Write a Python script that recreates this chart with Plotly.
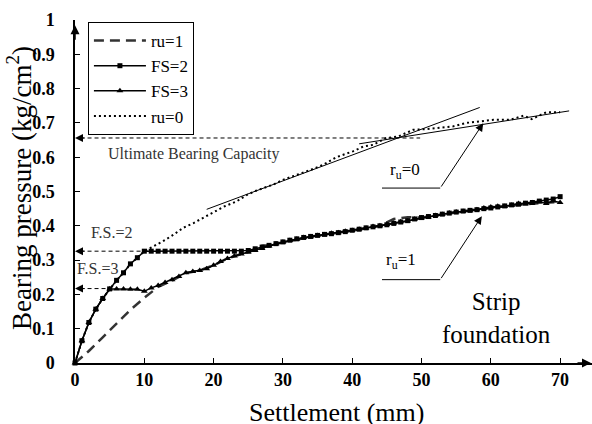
import plotly.graph_objects as go

# ---------------- data ----------------
fs_x = list(range(0, 71))
fs2_y = [0, 0.065, 0.118, 0.157, 0.188, 0.216, 0.241, 0.263, 0.289, 0.307, 0.326,
         0.326, 0.326, 0.326, 0.326, 0.326, 0.326, 0.326, 0.326, 0.326, 0.326,
         0.326, 0.326, 0.326, 0.326, 0.328, 0.333, 0.338, 0.343, 0.348, 0.353,
         0.358, 0.362, 0.366, 0.369, 0.372, 0.375, 0.377, 0.380, 0.383, 0.387,
         0.390, 0.394, 0.397, 0.400, 0.403, 0.407, 0.411, 0.415, 0.420, 0.424,
         0.427, 0.430, 0.434, 0.437, 0.440, 0.443, 0.445, 0.447, 0.450, 0.452,
         0.455, 0.458, 0.461, 0.463, 0.466, 0.468, 0.472, 0.475, 0.478, 0.485]
fs3_y = [0, 0.065, 0.118, 0.157, 0.188, 0.216, 0.216, 0.216, 0.215, 0.215, 0.209,
         0.219, 0.226, 0.235, 0.243, 0.252, 0.263, 0.267, 0.270, 0.275, 0.285,
         0.296, 0.305, 0.312, 0.318, 0.323, 0.328, 0.334, 0.341, 0.347, 0.352,
         0.357, 0.361, 0.366, 0.368, 0.372, 0.374, 0.378, 0.380, 0.384, 0.386,
         0.390, 0.393, 0.398, 0.400, 0.404, 0.408, 0.412, 0.414, 0.419, 0.423,
         0.426, 0.430, 0.433, 0.437, 0.440, 0.442, 0.444, 0.447, 0.452, 0.455,
         0.457, 0.456, 0.460, 0.465, 0.464, 0.467, 0.470, 0.465, 0.472, 0.468]
ru1_x = [0, 2, 4, 6, 8, 10, 11, 12, 14, 16, 18, 20, 22, 24, 26, 27, 28, 30,
         35, 40, 44, 46, 48, 50, 55, 60, 65, 70]
ru1_y = [0, 0.035, 0.075, 0.115, 0.155, 0.19, 0.205, 0.222, 0.24, 0.262, 0.27,
         0.285, 0.305, 0.318, 0.33, 0.342, 0.343, 0.352, 0.372, 0.386, 0.40,
         0.42, 0.425, 0.424, 0.44, 0.452, 0.463, 0.47]
ru0_x = [0, 1, 2, 3, 4, 5, 6, 7, 8, 9, 10, 11.3, 12.7, 14.2, 15.6, 17.1, 18.5,
         20.2, 21.6, 23.3, 24.8, 26.2, 28.6, 30, 32, 34, 35.8, 37.7, 40.1, 41.6,
         43, 44.9, 46.6, 48.8, 50.7, 52.7, 54.6, 56.5, 58, 60.4, 62.8, 64.7,
         65.9, 68, 70]
ru0_y = [0, 0.065, 0.118, 0.157, 0.188, 0.216, 0.241, 0.263, 0.289, 0.307,
         0.326, 0.34, 0.355, 0.374, 0.394, 0.408, 0.423, 0.442, 0.457, 0.471,
         0.49, 0.503, 0.52, 0.534, 0.548, 0.563, 0.578, 0.60, 0.617, 0.631,
         0.636, 0.656, 0.66, 0.68, 0.682, 0.685, 0.69, 0.70, 0.704, 0.709,
         0.709, 0.721, 0.711, 0.731, 0.731]

# reference lines
ultimate = 0.656
fs2_level = 0.326
fs3_level = 0.217
tangent1 = ([19, 58.4], [0.448, 0.745])
tangent2 = ([41, 71.3], [0.639, 0.735])

x_title = "Settlement (mm)"
y_title = "Bearing pressure (kg/cm<sup>2</sup>)"

FONT = "Times New Roman, Liberation Serif, serif"

fig = go.Figure()
fig.add_trace(go.Scatter(x=ru1_x, y=ru1_y, mode="lines", name="ru=1",
                         line=dict(color="#333333", width=2.5, dash="10px,6px"),
                         cliponaxis=False, legendgroup="a"))
fig.add_trace(go.Scatter(x=fs_x, y=fs2_y, mode="lines+markers", name="FS=2",
                         line=dict(color="black", width=1.5),
                         marker=dict(symbol="square", size=5, color="black"),
                         cliponaxis=False, legendgroup="b"))
fig.add_trace(go.Scatter(x=fs_x, y=fs3_y, mode="lines+markers", name="FS=3",
                         line=dict(color="black", width=1.5),
                         marker=dict(symbol="triangle-up", size=6, color="black"),
                         cliponaxis=False, legendgroup="c"))
fig.add_trace(go.Scatter(x=ru0_x, y=ru0_y, mode="lines", name="ru=0",
                         line=dict(color="black", width=2, dash="2px,3px"),
                         cliponaxis=False, legendgroup="d"))

# tangent lines
for tx, ty in (tangent1, tangent2):
    fig.add_trace(go.Scatter(x=tx, y=ty, mode="lines", showlegend=False,
                             line=dict(color="black", width=1), hoverinfo="skip"))

shapes = []
for lvl, xe in ((ultimate, 49.8), (fs2_level, 10), (fs3_level, 5)):
    shapes.append(dict(type="line", xref="x", yref="y", x0=0.8, x1=xe, y0=lvl, y1=lvl,
                       line=dict(color="black", width=1, dash="4px,3px")))
# leader horizontals
shapes.append(dict(type="line", xref="x", yref="y", x0=44.3, x1=52.7, y0=0.51, y1=0.51,
                   line=dict(color="black", width=1)))
shapes.append(dict(type="line", xref="x", yref="y", x0=44.3, x1=52.7, y0=0.243, y1=0.243,
                   line=dict(color="black", width=1)))

ann = []
# arrowheads of dashed lines at the y axis
for lvl in (ultimate, fs2_level, fs3_level):
    ann.append(dict(x=0, y=lvl, ax=1.6, ay=lvl, xref="x", yref="y", axref="x", ayref="y",
                    text="", showarrow=True, arrowhead=2, arrowsize=1.6, arrowwidth=1,
                    arrowcolor="black"))
# leader arrows
ann.append(dict(x=58.9, y=0.699, ax=52.7, ay=0.51, xref="x", yref="y", axref="x", ayref="y",
                text="", showarrow=True, arrowhead=2, arrowsize=1.6, arrowwidth=1,
                arrowcolor="black"))
ann.append(dict(x=58.7, y=0.428, ax=52.7, ay=0.243, xref="x", yref="y", axref="x", ayref="y",
                text="", showarrow=True, arrowhead=2, arrowsize=1.6, arrowwidth=1,
                arrowcolor="black"))
# axis arrows
ann.append(dict(x=1, y=0, xref="paper", yref="y", ax=-16, ay=0, text="", showarrow=True,
                arrowhead=2, arrowsize=1.2, arrowwidth=1.5, arrowcolor="black"))
ann.append(dict(x=0, y=0.985, xref="paper", yref="y", ax=0, ay=16, text="", showarrow=True,
                arrowhead=2, arrowsize=1.2, arrowwidth=1.5, arrowcolor="black"))
# axis titles
ann.append(dict(x=0.505, y=-0.145, xref="paper", yref="paper", text=x_title,
                showarrow=False, xanchor="center", yanchor="middle",
                font=dict(family=FONT, size=26, color="black")))
ann.append(dict(x=-0.108, y=0.511, xref="paper", yref="paper", text=y_title,
                showarrow=False, xanchor="center", yanchor="middle", textangle=-90,
                font=dict(family=FONT, size=27, color="black")))
# texts
ann.append(dict(x=17.2, y=0.61, xref="x", yref="y", text="Ultimate Bearing Capacity",
                showarrow=False, font=dict(family=FONT, size=16, color="#333333")))
ann.append(dict(x=5.4, y=0.38, xref="x", yref="y", text="F.S.=2",
                showarrow=False, font=dict(family=FONT, size=16, color="#333333")))
ann.append(dict(x=3.25, y=0.275, xref="x", yref="y", text="F.S.=3",
                showarrow=False, font=dict(family=FONT, size=16, color="#333333")))
ann.append(dict(x=47.6, y=0.559, xref="x", yref="y", text="r<sub>u</sub>=0",
                showarrow=False, font=dict(family=FONT, size=17, color="black")))
ann.append(dict(x=47.1, y=0.296, xref="x", yref="y", text="r<sub>u</sub>=1",
                showarrow=False, font=dict(family=FONT, size=17, color="black")))
ann.append(dict(x=60.85, y=0.13, xref="x", yref="y", text="Strip<br>foundation",
                showarrow=False, font=dict(family=FONT, size=25, color="black")))

fig.update_layout(
    width=592, height=424,
    margin=dict(l=75, r=0, t=20, b=61, autoexpand=False),
    paper_bgcolor="white", plot_bgcolor="white",
    font=dict(family=FONT, color="black"),
    shapes=shapes, annotations=ann,
    legend=dict(x=0.025, y=0.994, xanchor="left", yanchor="top",
                bgcolor="white", bordercolor="black", borderwidth=1,
                font=dict(family=FONT, size=17), tracegroupgap=0, itemwidth=52),
    xaxis=dict(range=[0, 74.6], dtick=10, tick0=0, showgrid=False, zeroline=False,
               showline=True, linecolor="black", linewidth=1.5, automargin=False,
               ticks="inside", ticklen=5, tickcolor="black", tickwidth=1,
               tickfont=dict(family=FONT, size=18, weight="bold"),
               ticklabelstandoff=0),
    yaxis=dict(range=[0, 1], dtick=0.1, tick0=0, showgrid=False, zeroline=False,
               showline=True, linecolor="black", linewidth=1.5, automargin=False,
               ticks="inside", ticklen=5, tickcolor="black", tickwidth=1,
               tickfont=dict(family=FONT, size=18, weight="bold"),
               ticklabelstandoff=15),
)

fig.write_html("out.html", config={"displayModeBar": False},
               post_script="document.body.style.margin='0px';document.body.style.overflow='hidden';")
